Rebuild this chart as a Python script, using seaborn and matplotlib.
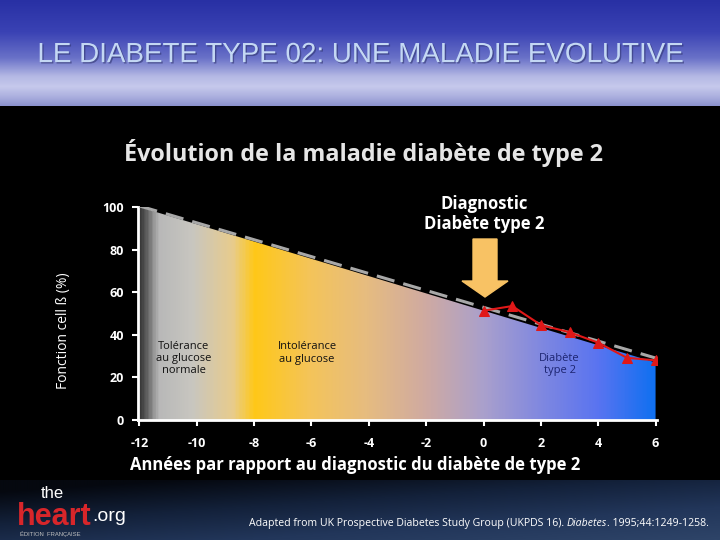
import numpy as np
import pandas as pd
import matplotlib
matplotlib.use("Agg")
import matplotlib.pyplot as plt
import matplotlib.patheffects as pe
import seaborn as sns
from matplotlib.colors import LinearSegmentedColormap
from matplotlib.patches import FancyArrow

# ---- data ----
years_fill = [-12, 6]
beta_fill = [100, 27]
years_trend = [-12, 6.2]
beta_trend = [100.5, 28.3]
years_ukpds = [0, 1, 2, 3, 4, 5, 6]
beta_ukpds = [51.3, 53.5, 44.6, 41.2, 36.3, 29.2, 28.0]
xticks = [-12, -10, -8, -6, -4, -2, 0, 2, 4, 6]
yticks = [0, 20, 40, 60, 80, 100]

sns.set_style("dark", {"axes.facecolor": "black", "figure.facecolor": "black"})
plt.rcParams['font.family'] = ['Open Sans', 'DejaVu Sans']

fig = plt.figure(figsize=(7.2, 5.4), dpi=100)
fig.patch.set_facecolor("black")

# header band
hax = fig.add_axes([0, 1 - 106 / 540, 1, 106 / 540])
hcm = LinearSegmentedColormap.from_list("h", [
    (0.0, "#2830a4"), (0.3, "#3a42b4"), (0.55, "#6a72c8"),
    (0.72, "#b4b8e4"), (0.82, "#c6c9ec"), (0.92, "#aaaede"), (1.0, "#8c92ce")])
hax.imshow(np.linspace(0, 1, 200).reshape(-1, 1), aspect="auto", cmap=hcm,
           extent=[0, 1, 0, 1], origin="upper")
hax.set_axis_off()
hax.text(0.5, 0.48, "LE DIABETE TYPE 02: UNE MALADIE EVOLUTIVE", color="#c4d8f4",
         fontsize=20, family="Liberation Sans", ha="center", va="center",
         transform=hax.transAxes,
         path_effects=[pe.withSimplePatchShadow(offset=(1.0, -1.0), shadow_rgbFace="#303570",
                                                alpha=0.6)])

# footer band
fax = fig.add_axes([0, 0, 1, 60 / 540])
fcm = LinearSegmentedColormap.from_list("f", ["#05080f", "#13213a", "#22365a", "#2e4468"])
gx, gy = np.meshgrid(np.linspace(0, 1, 300), np.linspace(0, 1, 60))
fax.imshow(np.clip(0.55 * gy + 0.45 * gx - 0.1, 0, 1), aspect="auto", cmap=fcm,
           extent=[0, 1, 0, 1], origin="upper")
fax.set_axis_off()
fax.set_xlim(0, 1)
fax.set_ylim(0, 1)
# logo (y in footer: pixel p -> (540 - p) / 60)
heart = fax.text(0.024, (540 - 525) / 60, "heart", color="#d8262a", fontsize=22,
                 fontweight="bold", family="Liberation Sans", ha="left", va="baseline")
fax.annotate(".org", xy=(1.0, 0.22), xycoords=heart, color="white", fontsize=14,
             family="Liberation Sans", ha="left", va="bottom")
fax.text(0.056, (540 - 498) / 60, "the", color="white", fontsize=12,
         family="Liberation Sans", ha="left", va="baseline")
fax.text(0.028, (540 - 536) / 60, "ÉDITION  FRANÇAISE", color="#c0c0c0", fontsize=4.2,
         family="Liberation Sans", ha="left", va="baseline")
cite1 = fax.text(0.346, 0.27, "Adapted from UK Prospective Diabetes Study Group (UKPDS 16). ",
                 color="white", fontsize=7.6, ha="left", va="center")
cite2 = fax.annotate("Diabetes", xy=(1.0, 0.5), xycoords=cite1, color="white", fontsize=7.6,
                     style="italic", ha="left", va="center")
fax.annotate(". 1995;44:1249-1258.", xy=(1.0, 0.5), xycoords=cite2, color="white",
             fontsize=7.6, ha="left", va="center")

# main axes
ax = fig.add_axes([138 / 720, 1 - 420 / 540, 519 / 720, 213 / 540])
ax.set_facecolor("black")
poly = ax.fill_between(years_fill, beta_fill, 0, facecolor="none", edgecolor="none")
gcm = LinearSegmentedColormap.from_list("g", [
    (0.0, "#3a3a3a"), (0.015, "#6a6a6a"), (0.035, "#b8b8b8"), (0.1, "#c8c6c0"),
    (0.18, "#e8cc8c"), (0.222, "#ffc818"), (0.33, "#f4c45a"), (0.44, "#e6bc80"),
    (0.556, "#cfaaa2"), (0.667, "#aaa0cc"), (0.778, "#8088e0"), (0.889, "#5a74f0"),
    (1.0, "#1070f0")])
im = ax.imshow(np.linspace(0, 1, 400).reshape(1, -1), aspect="auto", cmap=gcm,
               extent=[-12, 6, 0, 100], origin="lower", zorder=1)
im.set_clip_path(poly.get_paths()[0], transform=ax.transData)

trend = pd.DataFrame({"x": years_trend, "y": beta_trend})
sns.lineplot(data=trend, x="x", y="y", ax=ax, color="#a8a8a8", lw=2.2,
             linestyle=(0, (6, 3)), zorder=3)
uk = pd.DataFrame({"x": years_ukpds, "y": beta_ukpds})
sns.lineplot(data=uk, x="x", y="y", ax=ax, color="#e01818", lw=1.5, marker="^",
             markersize=6.5, markeredgecolor="#e01818", zorder=4)

ax.set_xlim(-12.05, 6.05)
ax.set_ylim(0, 100)
ax.set_xticks(xticks)
ax.set_yticks(yticks)
ax.set_xticklabels([str(v) for v in xticks], color="white", fontweight="bold", fontsize=9)
ax.set_yticklabels([str(v) for v in yticks], color="white", fontweight="bold", fontsize=9)
ax.tick_params(axis="both", colors="white", length=4, width=1.5, direction="out",
               bottom=True, left=True)
ax.tick_params(axis="x", pad=8)
ax.tick_params(axis="y", pad=6)
for s in ["top", "right"]:
    ax.spines[s].set_visible(False)
for s in ["left", "bottom"]:
    ax.spines[s].set_visible(True)
    ax.spines[s].set_color("white")
    ax.spines[s].set_linewidth(2)
ax.grid(False)
ax.set_xlabel("")
ax.set_ylabel("")

# region labels
ax.text(-10.45, 29, "Tolérance\nau glucose\nnormale", color="#111111", fontsize=8,
        ha="center", va="center", linespacing=1.15)
ax.text(-6.15, 31.5, "Intolérance\nau glucose", color="#111111", fontsize=8,
        ha="center", va="center", linespacing=1.15)
ax.text(2.65, 26, "Diabète\ntype 2", color="#1c2470", fontsize=8,
        ha="center", va="center", linespacing=1.15)

# figure texts
fig.text(364 / 720, 1 - 153 / 540, "Évolution de la maladie diabète de type 2",
         color="#e6e6e6", fontsize=16.8, fontweight="bold", ha="center", va="center")
fig.text(484 / 720, 1 - 214 / 540, "Diagnostic\nDiabète type 2", color="white",
         fontsize=12, fontweight="bold", ha="center", va="center", linespacing=1.1)
fig.text(130 / 720, 1 - 465 / 540, "Années par rapport au diagnostic du diabète de type 2",
         color="white", fontsize=12, fontweight="bold", ha="left", va="center")
fig.text(64 / 720, 1 - 331 / 540, "Fonction cell ß (%)", color="white", fontsize=10,
         rotation=90, ha="center", va="center")

arrow = FancyArrow(485 / 720, 1 - 239 / 540, 0, -58 / 540, width=24 / 720,
                   head_width=46 / 720, head_length=16 / 540, length_includes_head=True,
                   color="#f8c264", transform=fig.transFigure)
fig.add_artist(arrow)

fig.savefig("out.png", dpi=100, facecolor="black")
